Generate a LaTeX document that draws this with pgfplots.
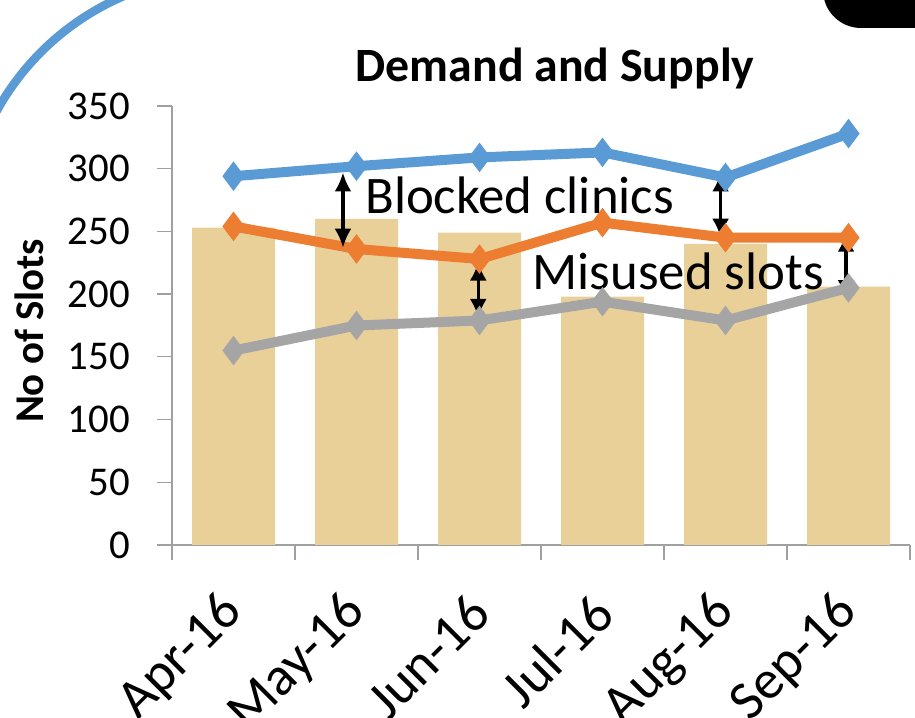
\documentclass[border=0pt]{standalone}
\usepackage{pgfplots}
\pgfplotsset{compat=1.18}
\usetikzlibrary{arrows.meta}
\usepackage{fontspec}
\setmainfont{Carlito}
\definecolor{cblue}{RGB}{91,155,213}
\definecolor{corange}{RGB}{237,125,49}
\definecolor{cgray}{RGB}{165,165,165}
\definecolor{ctan}{RGB}{233,208,152}
\definecolor{axgray}{RGB}{160,160,160}
\begin{document}
\begin{tikzpicture}[x=1bp,y=1bp]
% decorative slide elements
\draw[cblue, line width=8.5bp] (227,480) ++(165:263) arc[start angle=165, end angle=100, radius=263];
\fill[black, rounded corners=38bp] (823,690) rectangle (1000,800);
\begin{axis}[
  at={(172bp,173bp)}, anchor=south west,
  scale only axis, width=738bp, height=439bp,
  xmin=-0.5, xmax=5.5, ymin=0, ymax=350,
  axis x line*=bottom, axis y line*=left,
  axis line style={draw=axgray, line width=1.3bp},
  tick style={draw=axgray, line width=1.3bp},
  tick align=outside, major tick length=15bp,
  ytick={0,50,...,350},
  xtick={-0.5,0.5,...,5.5},
  x tick label as interval,
  xticklabels={Apr-16,May-16,Jun-16,Jul-16,Aug-16,Sep-16},
  /pgf/number format/assume math mode=true,
  tick label style={font=\fontsize{41}{41}\selectfont},
  yticklabel style={anchor=east, inner sep=0pt, xshift=-27bp},
  xticklabel style={font=\fontsize{55}{55}\selectfont, inner sep=0pt, anchor=east, xshift=1bp, yshift=-44bp, rotate=45},
  clip=false,
  every mark/.append style={line width=0.5bp},
]
\addplot[ybar, bar width=83bp, fill=ctan, draw=none] coordinates {(0,253) (1,260) (2,249) (3,198) (4,240) (5,206)};
\addplot[cblue, line width=10bp, mark=diamond*, mark size=6.5bp] coordinates {(0,294) (1,302) (2,309) (3,313) (4,293) (5,328)};
\addplot[corange, line width=10bp, mark=diamond*, mark size=6.5bp] coordinates {(0,254) (1,236) (2,228) (3,257) (4,245) (5,245)};
\addplot[cgray, line width=10bp, mark=diamond*, mark size=6.5bp] coordinates {(0,155) (1,175) (2,179) (3,194) (4,179) (5,205)};
\draw[{Latex[length=19bp,width=17bp]}-{Latex[length=19bp,width=17bp]}, line width=3.5bp] (axis cs:0.89,297) -- (axis cs:0.89,237);
\draw[{Latex[length=19bp,width=17bp]}-{Latex[length=19bp,width=17bp]}, line width=3.5bp] (axis cs:1.99,226) -- (axis cs:1.99,181);
\draw[{Latex[length=19bp,width=17bp]}-{Latex[length=19bp,width=17bp]}, line width=3.5bp] (axis cs:3.96,297) -- (axis cs:3.96,245);
\draw[{Latex[length=19bp,width=17bp]}-{Latex[length=19bp,width=17bp]}, line width=3.5bp] (axis cs:4.98,249) -- (axis cs:4.98,196);
\node[anchor=west, inner sep=0pt, font=\fontsize{53}{53}\selectfont] at (axis cs:1.07,279) {Blocked clinics};
\node[anchor=west, inner sep=0pt, font=\fontsize{53}{53}\selectfont] at (axis cs:2.43,218) {Misused slots};
\end{axis}
\node[font=\fontsize{48}{48}\selectfont\bfseries] at (555,650) {Demand and Supply};
\node[font=\fontsize{41}{41}\selectfont\bfseries, rotate=90] at (29,387) {No of Slots};
\pgfresetboundingbox
\useasboundingbox (0,0) rectangle (915,718);
\end{tikzpicture}
\end{document}
